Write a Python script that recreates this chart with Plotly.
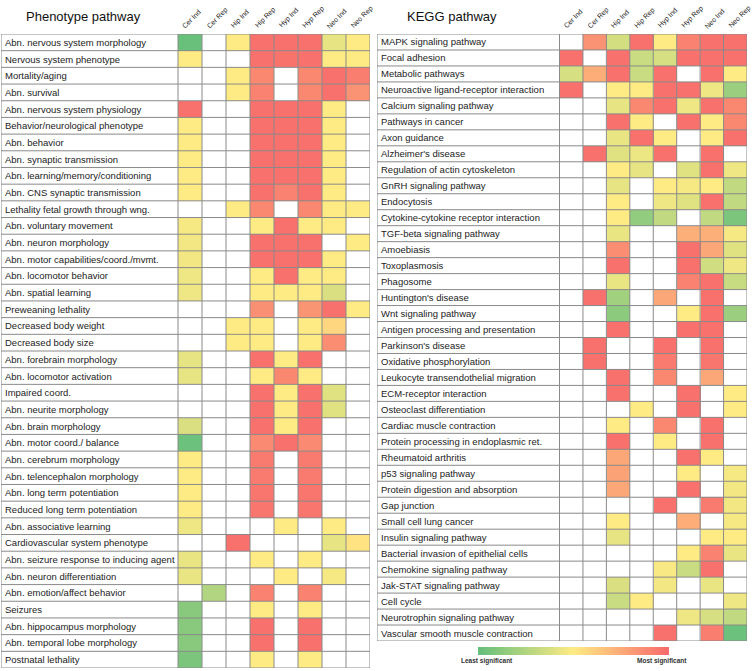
import plotly.graph_objects as go

# colunas (amostras)
colunas = ["Cer Ind", "Cer Rep", "Hip Ind", "Hip Rep", "Hyp Ind", "Hyp Rep", "Neo Ind", "Neo Rep"]

fenotipos = [
    "Abn. nervous system morphology", "Nervous system phenotype", "Mortality/aging",
    "Abn. survival", "Abn. nervous system physiology", "Behavior/neurological phenotype",
    "Abn. behavior", "Abn. synaptic transmission", "Abn. learning/memory/conditioning",
    "Abn. CNS synaptic transmission", "Lethality fetal growth through wng.",
    "Abn. voluntary movement", "Abn. neuron morphology", "Abn. motor capabilities/coord./mvmt.",
    "Abn. locomotor behavior", "Abn. spatial learning", "Preweaning lethality",
    "Decreased body weight", "Decreased body size", "Abn. forebrain morphology",
    "Abn. locomotor activation", "Impaired coord.", "Abn. neurite morphology",
    "Abn. brain morphology", "Abn. motor coord./ balance", "Abn. cerebrum morphology",
    "Abn. telencephalon morphology", "Abn. long term potentiation",
    "Reduced long term potentiation", "Abn. associative learning",
    "Cardiovascular system phenotype", "Abn. seizure response to inducing agent",
    "Abn. neuron differentiation", "Abn. emotion/affect behavior", "Seizures",
    "Abn. hippocampus morphology", "Abn. temporal lobe morphology", "Postnatal lethality",
]

N = None
# 0 = menos significativo (verde), 1 = mais significativo (vermelho), None = vazio
valores_fenotipo = [
    [0.02, N, 0.5, 0.97, 0.97, 0.97, 0.42, 0.5],
    [0.5, N, N, 0.97, 0.96, 0.97, 0.5, 0.5],
    [N, N, 0.5, 0.88, N, 0.88, 0.97, 0.92],
    [N, N, 0.5, 0.9, N, 0.88, 0.97, 0.84],
    [0.97, N, N, 0.97, 0.97, 0.97, 0.5, N],
    [0.5, N, N, 0.97, 0.97, 0.97, 0.5, N],
    [0.5, N, N, 0.97, 0.97, 0.97, 0.5, N],
    [0.5, N, N, 0.97, 0.97, 0.97, 0.5, N],
    [0.5, N, N, 0.97, 0.97, 0.97, 0.5, N],
    [0.5, N, N, 0.97, 0.9, 0.97, 0.5, N],
    [N, N, 0.5, 0.88, N, 0.88, 0.5, 0.5],
    [0.47, N, N, 0.5, 0.97, 0.5, 0.5, N],
    [0.46, N, N, 0.97, 0.97, 0.97, N, 0.5],
    [0.46, N, N, 0.97, 0.97, 0.97, 0.5, N],
    [0.45, N, N, 0.5, 0.97, 0.5, 0.5, N],
    [0.45, N, N, 0.5, 0.5, 0.5, 0.38, N],
    [N, N, N, 0.85, N, 0.83, 0.97, 0.5],
    [N, N, 0.5, 0.5, N, 0.5, 0.58, N],
    [N, N, 0.5, 0.5, N, 0.5, 0.86, N],
    [0.42, N, N, 0.97, 0.5, 0.97, N, N],
    [0.42, N, N, 0.5, 0.88, 0.5, N, N],
    [N, N, N, 0.97, 0.5, 0.97, 0.4, N],
    [N, N, N, 0.97, 0.5, 0.97, 0.4, N],
    [0.38, N, N, 0.97, 0.5, 0.97, N, N],
    [0.03, N, N, 0.87, 0.97, 0.87, N, N],
    [0.5, N, N, 0.93, N, 0.93, N, N],
    [0.5, N, N, 0.93, N, 0.93, N, N],
    [0.5, N, N, 0.95, N, 0.95, N, N],
    [0.5, N, N, 0.95, N, 0.95, N, N],
    [0.45, N, N, N, 0.5, N, 0.5, N],
    [N, N, 0.97, N, N, N, 0.42, 0.53],
    [0.43, N, N, 0.5, N, 0.5, N, N],
    [0.43, N, N, N, 0.5, N, 0.47, N],
    [N, 0.25, N, 0.9, N, 0.9, N, N],
    [0.12, N, N, 0.5, N, 0.5, N, N],
    [0.12, N, N, 0.97, N, 0.97, N, N],
    [0.12, N, N, 0.97, N, 0.97, N, N],
    [0.08, N, N, 0.5, N, 0.5, N, N],
]

vias_kegg = [
    "MAPK signaling pathway", "Focal adhesion", "Metabolic pathways",
    "Neuroactive ligand-receptor interaction", "Calcium signaling pathway",
    "Pathways in cancer", "Axon guidance", "Alzheimer's disease",
    "Regulation of actin cytoskeleton", "GnRH signaling pathway", "Endocytosis",
    "Cytokine-cytokine receptor interaction", "TGF-beta signaling pathway", "Amoebiasis",
    "Toxoplasmosis", "Phagosome", "Huntington's disease", "Wnt signaling pathway",
    "Antigen processing and presentation", "Parkinson's disease",
    "Oxidative phosphorylation", "Leukocyte transendothelial migration",
    "ECM-receptor interaction", "Osteoclast differentiation", "Cardiac muscle contraction",
    "Protein processing in endoplasmic ret.", "Rheumatoid arthritis",
    "p53 signaling pathway", "Protein digestion and absorption", "Gap junction",
    "Small cell lung cancer", "Insulin signaling pathway",
    "Bacterial invasion of epithelial cells", "Chemokine signaling pathway",
    "Jak-STAT signaling pathway", "Cell cycle", "Neurotrophin signaling pathway",
    "Vascular smooth muscle contraction",
]

valores_kegg = [
    [N, 0.84, 0.36, 0.97, 0.5, 0.9, 0.97, 0.97],
    [0.97, N, 0.97, 0.33, 0.37, 0.97, 0.97, 0.97],
    [0.37, 0.74, 0.97, 0.33, 0.97, N, 0.97, 0.5],
    [0.97, N, 0.5, 0.5, 0.97, 0.97, 0.45, 0.18],
    [N, N, 0.42, 0.88, 0.97, 0.45, 0.97, 0.88],
    [N, N, 0.97, 0.5, N, 0.97, 0.5, 0.88],
    [N, N, 0.43, 0.97, 0.5, N, 0.5, 0.97],
    [N, 0.97, 0.4, 0.44, 0.97, N, 0.97, N],
    [N, N, 0.5, 0.42, N, 0.4, 0.97, 0.45],
    [N, N, 0.42, N, 0.5, 0.47, 0.5, 0.3],
    [N, N, 0.5, N, 0.45, 0.4, 0.97, 0.3],
    [N, N, 0.5, 0.15, 0.3, N, 0.3, 0.08],
    [N, N, 0.43, N, N, 0.73, 0.73, 0.47],
    [N, N, 0.86, N, N, 0.97, 0.76, 0.4],
    [N, N, 0.97, N, N, 0.97, 0.35, 0.45],
    [N, N, 0.43, N, N, 0.9, 0.97, 0.32],
    [N, 0.97, 0.2, N, 0.76, N, 0.97, N],
    [N, N, 0.13, N, N, 0.5, 0.97, 0.18],
    [N, N, 0.97, N, N, 0.97, 0.97, N],
    [N, 0.97, N, N, 0.97, N, 0.97, N],
    [N, 0.97, N, N, 0.93, N, 0.95, N],
    [N, N, 0.97, N, 0.88, N, 0.76, N],
    [N, N, 0.97, N, N, 0.97, N, 0.5],
    [N, N, N, 0.5, N, 0.97, N, 0.5],
    [N, N, 0.5, N, 0.88, N, 0.97, N],
    [N, N, 0.97, N, 0.5, N, 0.97, N],
    [N, N, 0.76, N, N, 0.97, 0.5, N],
    [N, N, 0.78, N, N, 0.5, N, 0.47],
    [N, N, 0.76, N, N, 0.97, N, 0.46],
    [N, N, N, N, 0.97, N, 0.93, 0.46],
    [N, N, 0.5, N, N, 0.74, N, 0.47],
    [N, N, 0.42, N, N, N, 0.5, 0.5],
    [N, N, N, N, N, 0.5, 0.9, 0.43],
    [N, N, N, N, 0.48, 0.33, 0.97, N],
    [N, N, 0.38, N, 0.46, N, 0.43, N],
    [N, N, 0.33, 0.5, N, N, N, 0.45],
    [N, N, N, N, N, 0.45, 0.37, 0.3],
    [N, N, N, N, 0.97, N, 0.92, 0.03],
]

W, H = 752, 671
fonte = "Liberation Sans, Arial, sans-serif"
escala = [[0, "#63BE7B"], [0.5, "#FFEB84"], [1, "#F8696B"]]
cor_grade = "#8a8a8a"

# paineis: (rotulos, valores, eixo, x px esq, x px dir, y px topo, y px base, x px inicio das celulas)
paineis = [
    (fenotipos, valores_fenotipo, "", 1, 370, 34, 668, 178),
    (vias_kegg, valores_kegg, "2", 377, 747, 34, 641, 559.5),
]

fig = go.Figure()
anotacoes = []
formas = []
nc = len(colunas)

for rotulos, valores, ax, x0, x1, y0, y1, xc in paineis:
    n = len(rotulos)
    cel = (x1 - xc) / nc
    xmin = -0.5 - (xc - x0) / cel
    fig.add_trace(go.Heatmap(
        z=valores, x=list(range(nc)), y=list(range(n)),
        coloraxis="coloraxis", xaxis="x" + ax, yaxis="y" + ax,
        hoverongaps=False,
    ))
    fig.update_layout({
        "xaxis" + ax: dict(
            domain=[x0 / W, x1 / W], range=[xmin, nc - 0.5],
            showticklabels=False, ticks="",
            showgrid=False, zeroline=False, showline=False, anchor="y" + ax,
        ),
        "yaxis" + ax: dict(
            domain=[(H - y1) / H, (H - y0) / H], range=[n - 0.5, -0.5],
            showticklabels=False, showgrid=False, zeroline=False, ticks="",
            anchor="x" + ax,
        ),
    })
    xr, yr = "x" + ax, "y" + ax
    # cabecalhos inclinados das colunas
    for j, c in enumerate(colunas):
        anotacoes.append(dict(x=j - 0.42, y=(H - y0 + 3) / H, xref=xr, yref="paper",
                              text=c, textangle=-45, showarrow=False,
                              xanchor="left", yanchor="bottom", borderpad=0,
                              font=dict(size=7, color="#222")))
    for i, r in enumerate(rotulos):
        anotacoes.append(dict(x=xmin + 2 / cel, y=i, xref=xr, yref=yr, text=r,
                              showarrow=False, xanchor="left", yanchor="middle",
                              font=dict(size=9.5, color="#222")))
    for i in range(n + 1):
        formas.append(dict(type="line", xref=xr, yref=yr, x0=xmin, x1=nc - 0.5,
                           y0=i - 0.5, y1=i - 0.5, line=dict(color=cor_grade, width=1)))
    for xv in [xmin] + [j - 0.5 for j in range(nc + 1)]:
        formas.append(dict(type="line", xref=xr, yref=yr, x0=xv, x1=xv,
                           y0=-0.5, y1=n - 0.5, line=dict(color=cor_grade, width=1)))

anotacoes += [
    dict(x=83 / W, y=(H - 17) / H, xref="paper", yref="paper", text="Phenotype pathway",
         showarrow=False, xanchor="center", yanchor="middle", font=dict(size=13, color="#111")),
    dict(x=452 / W, y=(H - 17) / H, xref="paper", yref="paper", text="KEGG pathway",
         showarrow=False, xanchor="center", yanchor="middle", font=dict(size=13, color="#111")),
    dict(x=487 / W, y=(H - 661) / H, xref="paper", yref="paper", text="<b>Least significant</b>",
         showarrow=False, xanchor="center", yanchor="middle", font=dict(size=6.5, color="#333")),
    dict(x=662 / W, y=(H - 661) / H, xref="paper", yref="paper", text="<b>Most significant</b>",
         showarrow=False, xanchor="center", yanchor="middle", font=dict(size=6.5, color="#333")),
]

fig.update_layout(
    width=W, height=H,
    margin=dict(l=0, r=0, t=0, b=0),
    paper_bgcolor="white", plot_bgcolor="white",
    font=dict(family=fonte, color="#222"),
    coloraxis=dict(
        colorscale=escala, cmin=0, cmax=1,
        colorbar=dict(orientation="h", x=573.5 / W, xanchor="center",
                      y=(H - 651) / H, yanchor="middle",
                      len=191, lenmode="pixels", thickness=8, thicknessmode="pixels",
                      showticklabels=False, ticks="", outlinewidth=0, xpad=0, ypad=0),
    ),
    annotations=anotacoes,
    shapes=formas,
)

# tira a margem padrao do body para a figura ocupar a janela toda
fig.write_html("out.html", config={"displayModeBar": False},
               post_script="document.body.style.margin='0';")
